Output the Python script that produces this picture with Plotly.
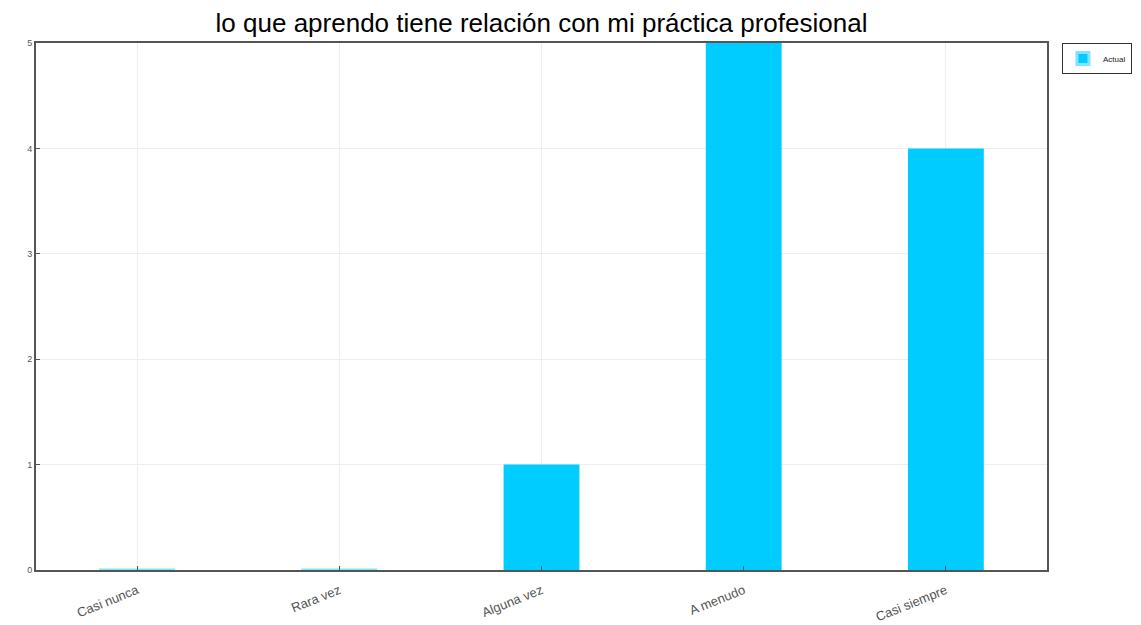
import plotly.graph_objects as go

categories = ["Casi nunca", "Rara vez", "Alguna vez", "A menudo", "Casi siempre"]
values = [0, 0, 1, 5, 4]
series_name = "Actual"
title = "lo que aprendo tiene relación con mi práctica profesional"

fig = go.Figure()
fig.add_trace(go.Bar(
    x=categories, y=values, name=series_name,
    marker=dict(color="#00CCFF", line=dict(color="#7FE5FF", width=[3 if v == 0 else 0 for v in values])),
    width=0.375,
))
L, R, T, B = 28, 102, 35, 63
fig.update_layout(
    width=1141, height=625,
    paper_bgcolor="white", plot_bgcolor="white",
    margin=dict(l=L, r=R, t=T, b=B, autoexpand=False),
    title=dict(text=title, x=(L + 1141 - R) / 2 / 1141, xanchor="center", y=1 - 15 / 625, yanchor="middle",
               font=dict(family="Liberation Sans, Arial", size=26, color="black")),
    font=dict(family="Liberation Sans, Arial", color="#444"),
    showlegend=True,
    legend=dict(x=1.0148, y=1, xanchor="left", yanchor="top", bgcolor="white",
                bordercolor="#333", borderwidth=1, font=dict(size=8, color="#222"),
                itemwidth=30, tracegroupgap=0),
    xaxis=dict(showline=True, mirror=True, linecolor="#555", linewidth=2, automargin=False,
               showgrid=True, gridcolor="#eeeeee", tickangle=-22, tickfont=dict(size=13, color="#555"),
               ticks="inside", ticklen=4, tickcolor="#555", ticklabelstandoff=6),
    yaxis=dict(range=[0, 5], dtick=1, showline=True, mirror=True, linecolor="#555", linewidth=2, automargin=False,
               showgrid=True, gridcolor="#eeeeee", tickfont=dict(size=9, color="#555"),
               ticks="inside", ticklen=4, tickcolor="#555", zeroline=False),
)
fig.write_html("out.html")
